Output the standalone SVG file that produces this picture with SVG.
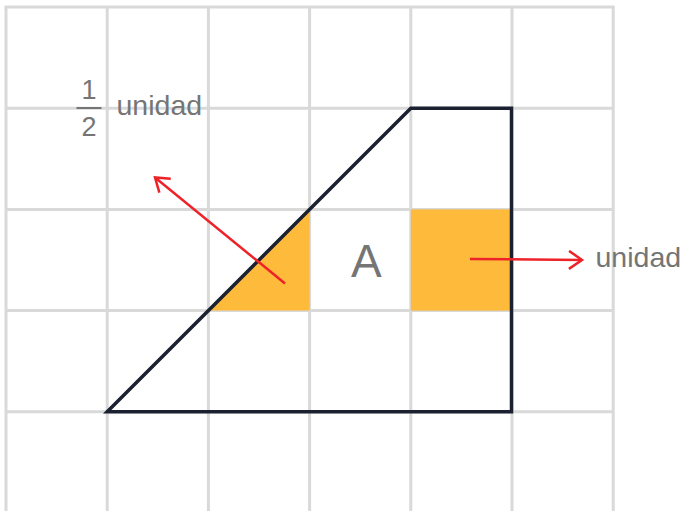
<svg xmlns="http://www.w3.org/2000/svg" width="682" height="511" viewBox="0 0 682 511">
<style>
.grid line{stroke:#d9d9d9;stroke-width:3}
.lbl{font-family:"Liberation Sans",Arial,sans-serif;fill:#757575}
.arr{stroke:#ee2229;stroke-width:2.5;fill:none}
</style>
<defs>
<marker id="ah" viewBox="0 0 20 20" refX="16" refY="10" markerWidth="20" markerHeight="20" markerUnits="userSpaceOnUse" orient="auto">
<path d="M3,1 L16,10 L3,19" fill="none" stroke="#ee2229" stroke-width="2.5"/>
</marker>
</defs>
<rect width="682" height="511" fill="#ffffff"/>
<g id="grid" class="grid">
<line x1="6" y1="7" x2="6" y2="511"/>
<line x1="107.2" y1="7" x2="107.2" y2="511"/>
<line x1="208.4" y1="7" x2="208.4" y2="511"/>
<line x1="309.6" y1="7" x2="309.6" y2="511"/>
<line x1="410.8" y1="7" x2="410.8" y2="511"/>
<line x1="512" y1="7" x2="512" y2="511"/>
<line x1="613.2" y1="7" x2="613.2" y2="511"/>
<line x1="4.5" y1="7" x2="614.7" y2="7"/>
<line x1="6" y1="108.2" x2="613.2" y2="108.2"/>
<line x1="6" y1="209.4" x2="613.2" y2="209.4"/>
<line x1="6" y1="310.6" x2="613.2" y2="310.6"/>
<line x1="6" y1="411.8" x2="613.2" y2="411.8"/>
</g>
<g id="half-unit">
<polygon points="208.4,310.6 309.6,209.4 309.6,310.6" fill="#fdba3b"/>
</g>
<g id="unit">
<rect x="410.8" y="209.4" width="101.2" height="101.2" fill="#fdba3b"/>
</g>
<g id="shape-A">
<polygon points="107.2,411.8 410.8,108.2 511.5,108.2 511.5,411.8" fill="none" stroke="#1b2130" stroke-width="3.5" stroke-linejoin="miter"/>
<text class="lbl" x="351" y="277" font-size="46">A</text>
</g>
<g id="connectors">
<line class="arr" x1="285" y1="283.5" x2="155" y2="177.5" marker-end="url(#ah)"/>
<line class="arr" x1="470" y1="259" x2="582" y2="260" marker-end="url(#ah)"/>
</g>
<g id="label-half">
<text class="lbl" x="89" y="98.5" font-size="27" text-anchor="middle">1</text>
<line x1="76.5" y1="108" x2="101.5" y2="108" stroke="#757575" stroke-width="2"/>
<text class="lbl" x="89" y="136" font-size="27" text-anchor="middle">2</text>
<text class="lbl" x="116.5" y="115" font-size="28.5">unidad</text>
</g>
<g id="label-unit">
<text class="lbl" x="595.5" y="267" font-size="28.5">unidad</text>
</g>
</svg>
